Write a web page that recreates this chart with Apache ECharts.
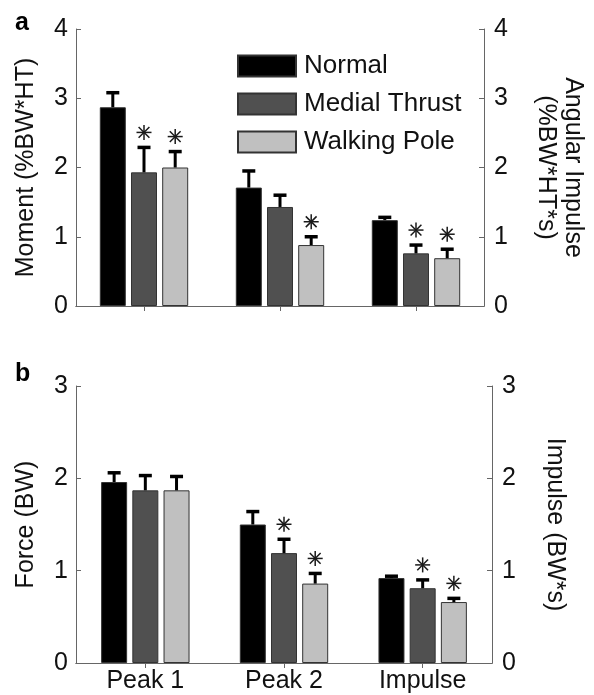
<!DOCTYPE html>
<html>
<head>
<meta charset="utf-8">
<script src="https://cdn.jsdelivr.net/npm/echarts@6/dist/echarts.min.js"></script>
<style>
html,body{margin:0;padding:0;background:#fff;}
#chart{width:594px;height:695px;}
</style>
</head>
<body>
<div id="chart"></div>
<script>
// ---- data ----
const categories = ['Peak 1', 'Peak 2', 'Impulse'];
const groupNames = ['Normal', 'Medial Thrust', 'Walking Pole'];

// Panel a: knee adduction moment (%BW*HT) / angular impulse (%BW*HT*s)
const momentNormal   = [2.87, 1.71, 1.24];
const momentMedial   = [1.93, 1.43, 0.76];
const momentWalking  = [2.00, 0.88, 0.69];
const momentNormalSD  = [0.21, 0.24, 0.04];
const momentMedialSD  = [0.36, 0.17, 0.12];
const momentWalkingSD = [0.23, 0.12, 0.13];
const momentMedialSig  = [1, 0, 1];
const momentWalkingSig = [1, 1, 1];

// Panel b: force (BW) / impulse (BW*s)
const forceNormal   = [1.96, 1.50, 0.92];
const forceMedial   = [1.87, 1.19, 0.81];
const forceWalking  = [1.87, 0.86, 0.66];
const forceNormalSD  = [0.10, 0.14, 0.02];
const forceMedialSD  = [0.16, 0.15, 0.09];
const forceWalkingSD = [0.15, 0.11, 0.04];
const forceMedialSig  = [0, 1, 1];
const forceWalkingSig = [0, 1, 1];

const topTicksMax = 4;
const bottomTicksMax = 3;

// ---- styles ----
const FONT = 'Liberation Sans, Arial, Helvetica, sans-serif';
const colors = ['#000000', '#505050', '#c0c0c0'];
const BAR_W = 26, BAR_GAP = 0.2;
const STEP = BAR_W * (1 + BAR_GAP);
const CAP = 6.5;
const AXIS_COLOR = '#666';
const TEXT_COLOR = '#111';

function errRows(means, sds, sigs) {
  const rows = [];
  means.forEach((m, g) => {
    m.forEach((v, c) => rows.push([c, g, v, sds[g][c], sigs[g][c]]));
  });
  return rows;
}

function renderErr(params, api) {
  const cat = api.value(0), g = api.value(1), mean = api.value(2), sd = api.value(3), sig = api.value(4);
  const p0 = api.coord([cat, mean]);
  const p1 = api.coord([cat, mean + sd]);
  const x = p0[0] + (g - 1) * STEP;
  const children = [
    {type: 'line', shape: {x1: x, y1: p0[1], x2: x, y2: p1[1]}, style: {stroke: '#000', lineWidth: 3}},
    {type: 'line', shape: {x1: x - CAP, y1: p1[1], x2: x + CAP, y2: p1[1]}, style: {stroke: '#000', lineWidth: 3.5}}
  ];
  if (sig) {
    const cy = p1[1] - 15, r = 7.5, d = r * 0.72;
    const st = {stroke: '#1a1a1a', lineWidth: 1.5};
    children.push(
      {type: 'line', shape: {x1: x, y1: cy - r, x2: x, y2: cy + r}, style: st},
      {type: 'line', shape: {x1: x - r, y1: cy, x2: x + r, y2: cy}, style: st},
      {type: 'line', shape: {x1: x - d, y1: cy - d, x2: x + d, y2: cy + d}, style: st},
      {type: 'line', shape: {x1: x - d, y1: cy + d, x2: x + d, y2: cy - d}, style: st}
    );
  }
  return {type: 'group', children};
}

function xAx(gridIndex, pos, showLabel) {
  return {
    type: 'category', gridIndex, position: pos, data: categories,
    axisLine: {show: true, lineStyle: {color: AXIS_COLOR, width: 1}},
    axisTick: {show: pos === 'top', inside: true, alignWithLabel: true, length: 5, lineStyle: {color: AXIS_COLOR}},
    axisLabel: {show: showLabel, fontSize: 25, color: TEXT_COLOR, fontFamily: FONT, margin: 6},
    splitLine: {show: false}
  };
}
function yAx(gridIndex, pos, max, name, nameGap) {
  return {
    type: 'value', gridIndex, position: pos, min: 0, max, interval: 1,
    name, nameLocation: 'middle', nameGap, nameRotate: pos === 'left' ? 90 : -90,
    nameTextStyle: {fontSize: 25, color: TEXT_COLOR, fontFamily: FONT, lineHeight: 27},
    axisLine: {show: true, lineStyle: {color: AXIS_COLOR, width: 1}},
    axisTick: {show: true, inside: true, length: 5, lineStyle: {color: AXIS_COLOR}},
    axisLabel: {fontSize: 25, color: TEXT_COLOR, fontFamily: FONT, margin: pos === 'left' ? 8 : 10},
    splitLine: {show: false}
  };
}

const topMeans = [momentNormal, momentMedial, momentWalking];
const botMeans = [forceNormal, forceMedial, forceWalking];

const series = [];
[topMeans, botMeans].forEach((means, gi) => {
  means.forEach((vals, g) => {
    series.push({
      type: 'bar', name: groupNames[g], xAxisIndex: gi * 2, yAxisIndex: gi * 2,
      data: vals, barWidth: BAR_W, barGap: (BAR_GAP * 100) + '%',
      itemStyle: {color: colors[g], borderColor: '#333', borderWidth: 1},
      emphasis: {disabled: true}, animation: false, z: 2
    });
  });
});
series.push({
  type: 'custom', xAxisIndex: 0, yAxisIndex: 0, z: 5, animation: false, silent: true,
  renderItem: renderErr, encode: {x: 0, y: 2},
  data: errRows(topMeans, [momentNormalSD, momentMedialSD, momentWalkingSD], [[0, 0, 0], momentMedialSig, momentWalkingSig])
});
series.push({
  type: 'custom', xAxisIndex: 2, yAxisIndex: 2, z: 5, animation: false, silent: true,
  renderItem: renderErr, encode: {x: 0, y: 2},
  data: errRows(botMeans, [forceNormalSD, forceMedialSD, forceWalkingSD], [[0, 0, 0], forceMedialSig, forceWalkingSig])
});

const chart = echarts.init(document.getElementById('chart'), null, {renderer: 'canvas'});
chart.setOption({
  backgroundColor: '#fff',
  animation: false,
  textStyle: {fontFamily: FONT},
  grid: [
    {left: 76, top: 29, width: 415, height: 277},
    {left: 76, top: 386, width: 416, height: 277}
  ],
  xAxis: [xAx(0, 'bottom', false), xAx(0, 'top', false), xAx(1, 'bottom', true), xAx(1, 'top', false)],
  yAxis: [
    yAx(0, 'left', topTicksMax, 'Moment (%BW*HT)', 36),
    yAx(0, 'right', topTicksMax, 'Angular Impulse\n(%BW*HT*s)', 48),
    yAx(1, 'left', bottomTicksMax, 'Force (BW)', 36),
    yAx(1, 'right', bottomTicksMax, 'Impulse (BW*s)', 49)
  ],
  legend: {
    data: groupNames, orient: 'vertical', left: 237, top: 53, padding: 0,
    itemWidth: 58, itemHeight: 21, itemGap: 12, icon: 'rect',
    textStyle: {fontSize: 26, color: TEXT_COLOR, fontFamily: FONT, padding: [0, 0, 0, 3]},
    selectedMode: false
  },
  graphic: [
    {type: 'text', left: 15, top: 11, style: {text: 'a', font: 'bold 25px ' + FONT, fill: '#000'}},
    {type: 'text', left: 15, top: 362, style: {text: 'b', font: 'bold 25px ' + FONT, fill: '#000'}}
  ],
  series
});
</script>
</body>
</html>
